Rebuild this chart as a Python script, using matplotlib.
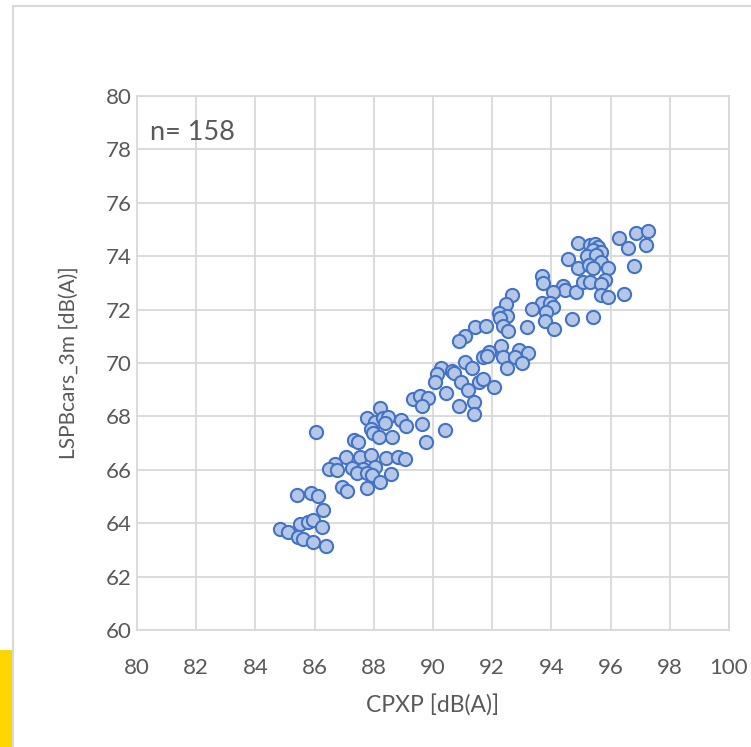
import matplotlib.pyplot as plt
from matplotlib.patches import Rectangle
from matplotlib.lines import Line2D

plt.rcParams['font.family'] = ['Lato', 'DejaVu Sans']

# CPXP [dB(A)] vs LSPBcars_3m [dB(A)]
cpxp = [
    85.39, 85.88, 86.13, 86.29, 84.83, 85.09, 85.51, 85.77, 85.96, 86.26,
    85.45, 85.60, 85.96, 86.38, 86.94, 87.10, 87.76, 86.04,
    89.33, 89.56, 89.84, 89.62, 88.21, 87.76, 88.04, 88.32, 88.49, 88.38,
    88.92, 89.09, 87.89, 87.98, 88.19, 88.63, 89.62, 89.76, 87.34, 87.48,
    87.06, 87.53, 87.89, 88.40, 88.81, 89.05, 86.69, 86.49, 87.25, 87.65,
    88.04, 87.44, 87.76, 87.93, 88.58, 88.21, 86.75,
    91.42, 91.79, 91.08, 90.88, 92.29, 91.90, 91.68, 91.83, 92.38, 92.49,
    91.08, 91.31, 90.27, 90.15, 90.63, 90.71, 90.07, 90.95, 91.19, 91.57,
    91.70, 92.07, 90.44, 90.89, 91.39, 91.39, 90.41,
    94.57, 94.90, 93.67, 93.73, 94.40, 94.46, 94.06, 94.83, 92.68, 92.47,
    93.67, 93.95, 94.06, 93.33, 92.24, 92.51, 92.26, 93.83, 93.78, 94.71,
    92.38, 92.54, 93.18, 94.09, 92.91, 93.22, 92.77, 92.99,
    96.30, 96.86, 97.28, 96.60, 97.20, 94.91, 95.30, 95.47, 95.58, 95.41,
    95.69, 95.19, 95.51, 95.66, 95.28, 95.42, 95.92, 96.79, 95.81, 95.08,
    95.32, 95.69, 95.69, 95.92, 96.45, 95.39,
]
lspb = [
    65.06, 65.12, 65.03, 64.48, 63.78, 63.68, 63.96, 64.06, 64.12, 63.87,
    63.47, 63.42, 63.28, 63.15, 65.37, 65.22, 65.31, 67.40,
    68.64, 68.76, 68.70, 68.39, 68.33, 67.95, 67.80, 67.93, 67.97, 67.74,
    67.87, 67.65, 67.51, 67.36, 67.24, 67.24, 67.72, 67.04, 67.12, 67.05,
    66.47, 66.47, 66.54, 66.44, 66.49, 66.39, 66.21, 66.03, 66.08, 66.02,
    66.09, 65.89, 65.87, 65.81, 65.83, 65.56, 65.99,
    71.34, 71.40, 71.01, 70.82, 70.65, 70.40, 70.21, 70.26, 70.24, 69.82,
    70.05, 69.82, 69.82, 69.59, 69.70, 69.64, 69.28, 69.28, 68.99, 69.28,
    69.40, 69.11, 68.86, 68.40, 68.55, 68.08, 67.49,
    73.88, 73.55, 73.26, 72.98, 72.88, 72.73, 72.65, 72.67, 72.55, 72.21,
    72.26, 72.24, 72.11, 72.02, 71.89, 71.76, 71.67, 71.90, 71.58, 71.65,
    71.39, 71.20, 71.36, 71.27, 70.49, 70.36, 70.21, 69.99,
    74.67, 74.86, 74.94, 74.32, 74.42, 74.48, 74.42, 74.46, 74.36, 74.23,
    74.14, 74.01, 74.04, 73.80, 73.67, 73.55, 73.55, 73.63, 73.11, 73.05,
    73.05, 72.96, 72.55, 72.48, 72.58, 71.73,
]
x_ticks = list(range(80, 101, 2))
y_ticks = list(range(60, 81, 2))

grey = '#595959'
grid = '#D9D9D9'

fig = plt.figure(figsize=(7.51, 7.47), dpi=100)

# outer chart frame (only left and top edges are visible in the crop)
fig.add_artist(Line2D([13 / 751, 13 / 751], [0, 1 - 6 / 747], color=grid, lw=1.5))
fig.add_artist(Line2D([13 / 751, 1], [1 - 6 / 747, 1 - 6 / 747], color=grid, lw=1.5))
# yellow sliver at bottom left
fig.add_artist(Rectangle((0, 0), 11.5 / 751, 97 / 747, transform=fig.transFigure,
                         facecolor='#FFD600', edgecolor='none'))

ax = fig.add_axes([137 / 751, 117 / 747, 592 / 751, 534 / 747])
ax.scatter(cpxp, lspb, s=90, facecolor='#B4C7E7', edgecolor='#4472C4',
           linewidth=1.5, zorder=3)

ax.set_xlim(80, 100)
ax.set_ylim(60, 80)
ax.set_xticks(x_ticks)
ax.set_yticks(y_ticks)
ax.grid(True, color=grid, linewidth=1.3, zorder=0)
for s in ax.spines.values():
    s.set_color(grid)
    s.set_linewidth(1.3)
ax.tick_params(length=0, labelsize=16, colors=grey)
ax.tick_params(axis='x', pad=20)
ax.tick_params(axis='y', pad=4)

ax.set_xlabel('CPXP [dB(A)]', fontsize=16.5, color=grey, labelpad=12)
ax.set_ylabel('LSPBcars_3m [dB(A)]', fontsize=15, color=grey, labelpad=19)
ax.text(80.45, 78.65, 'n= 158', fontsize=19.5, color=grey, va='center')

plt.savefig('out.png', dpi=100)
